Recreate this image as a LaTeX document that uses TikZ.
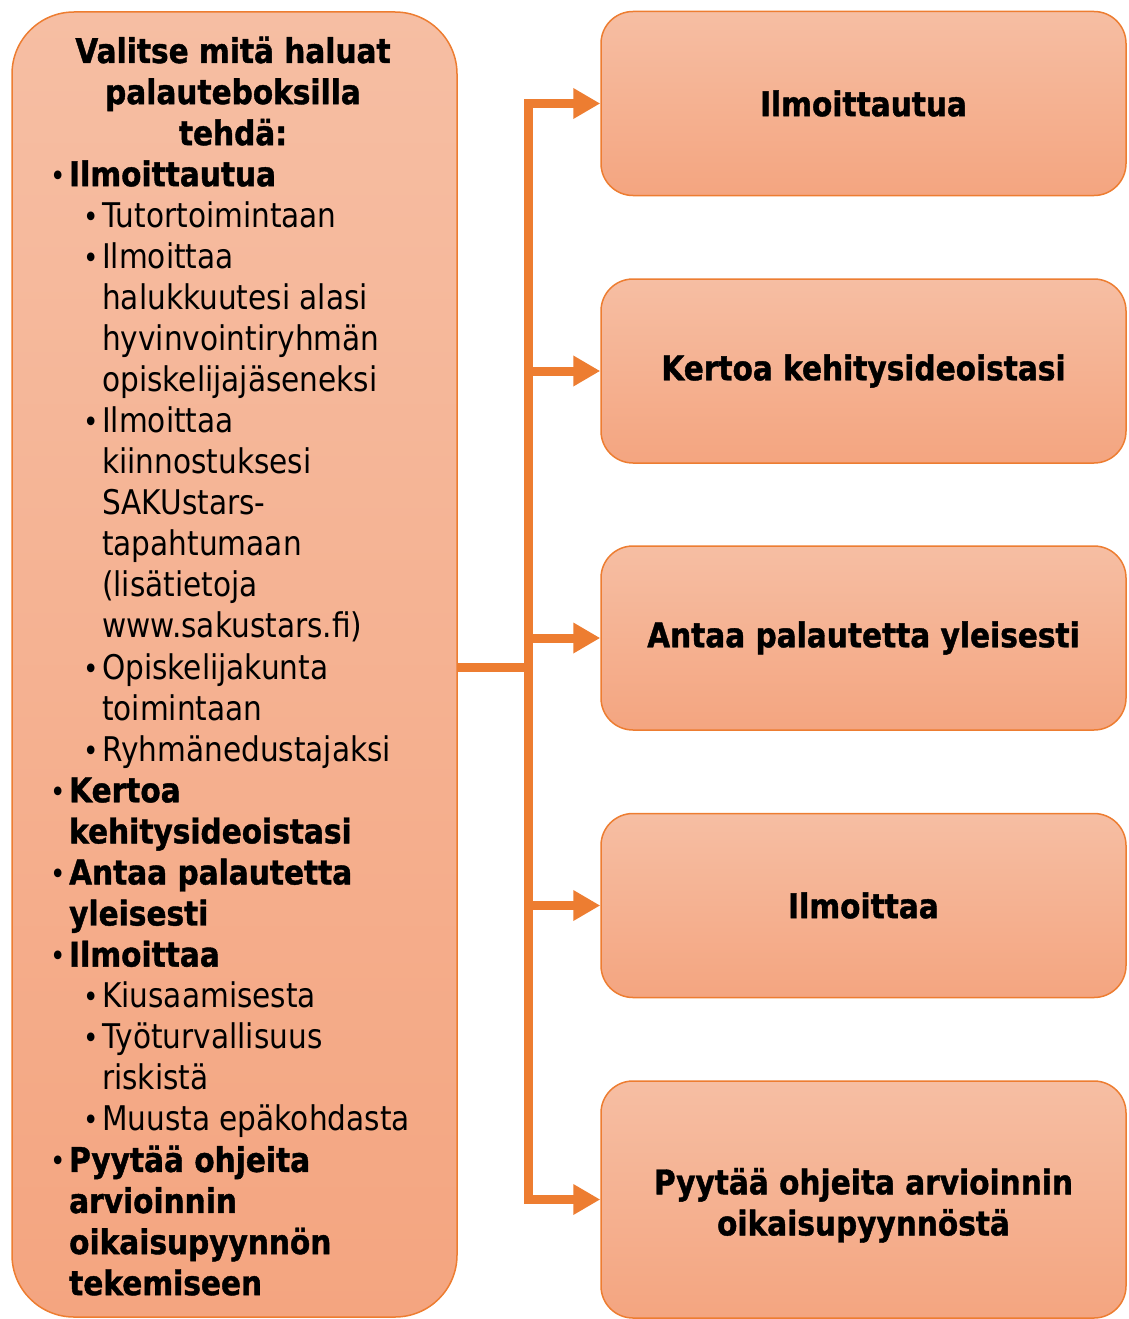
\documentclass[tikz,border=0pt]{standalone}
\usepackage{fontspec}
\setmainfont{DejaVu Sans}[FakeStretch=0.87, BoldFeatures={FakeBold=1.2}]
\usetikzlibrary{arrows.meta}
\definecolor{acc}{HTML}{ED7D31}
\definecolor{ftop}{HTML}{F6BEA3}
\definecolor{fbot}{HTML}{F4A580}
\newcommand\bodyfont{\fontsize{34}{41.07}\selectfont}
\newcommand\mybul{{\mdseries\fontsize{30}{30}\selectfont\textbullet}\hspace{3pt}}
\tikzset{
  bigtri/.tip={Triangle[length=27pt,width=29pt]},
  boxbase/.style={draw=acc, line width=1.5pt, top color=ftop, bottom color=fbot, inner sep=0pt},
  rbox/.style={boxbase, rounded corners=32pt, minimum width=525pt, minimum height=184pt,
    font=\bodyfont\bfseries, align=center, text=black},
  conn/.style={draw=acc, line width=9pt},
  txt/.style={inner sep=0pt, font=\bodyfont, text=black},
  ttl/.style={txt, anchor=base, font=\bodyfont\bfseries, xshift=233pt},
  cA/.style={txt, anchor=base west, font=\bodyfont\bfseries, xshift=69pt},
  bA/.style={cA, execute at begin node={\llap{\mybul}}},
  cB/.style={txt, anchor=base west, xshift=102pt},
  bB/.style={cB, execute at begin node={\llap{\mybul}}},
}
\begin{document}
\begin{tikzpicture}[x=1pt,y=-1pt]
\useasboundingbox (0,0) rectangle (1128,1319);
% left box
\node[boxbase, rounded corners=62pt, minimum width=445pt, minimum height=1305pt] (main) at (234.5,664.5) {};
\foreach \k/\sty/\t in {
  0/ttl/Valitse mitä haluat, 1/ttl/palauteboksilla, 2/ttl/tehdä:,
  3/bA/Ilmoittautua, 4/bB/Tutortoimintaan, 5/bB/Ilmoittaa,
  6/cB/halukkuutesi alasi, 7/cB/hyvinvointiryhmän, 8/cB/opiskelijajäseneksi,
  9/bB/Ilmoittaa, 10/cB/kiinnostuksesi, 11/cB/SAKUstars-, 12/cB/tapahtumaan,
  13/cB/(lisätietoja, 14/cB/www.sakustars.fi), 15/bB/Opiskelijakunta,
  16/cB/toimintaan, 17/bB/Ryhmänedustajaksi, 18/bA/Kertoa,
  19/cA/kehitysideoistasi, 20/bA/Antaa palautetta, 21/cA/yleisesti,
  22/bA/Ilmoittaa, 23/bB/Kiusaamisesta, 24/bB/Työturvallisuus,
  25/cB/riskistä, 26/bB/Muusta epäkohdasta, 27/bA/Pyytää ohjeita,
  28/cA/arvioinnin, 29/cA/oikaisupyynnön, 30/cA/tekemiseen}
  \node[\sty] (line\k) at (0,{63+41.07*\k}) {\t};
% right boxes
\node[rbox] (b1) at (863.5,103.5) {Ilmoittautua};
\node[rbox] (b2) at (863.5,371) {Kertoa kehitysideoistasi};
\node[rbox] (b3) at (863.5,638) {Antaa palautetta yleisesti};
\node[rbox] (b4) at (863.5,905.5) {Ilmoittaa};
\node[rbox, minimum height=237pt] (b5) at (863.5,1199.5) {\rule{0pt}{38pt}Pyytää ohjeita arvioinnin\\oikaisupyynnöstä};
% connectors
\coordinate (j) at (528,667);
\draw[conn] (main.east |- j) -- (j);
\draw[conn, bigtri-bigtri] (b1.west) -- (j |- b1.west) -- (j |- b5.west) -- (b5.west);
\draw[conn, -bigtri] (j |- b2.west) -- (b2.west);
\draw[conn, -bigtri] (j |- b3.west) -- (b3.west);
\draw[conn, -bigtri] (j |- b4.west) -- (b4.west);
\end{tikzpicture}
\end{document}
